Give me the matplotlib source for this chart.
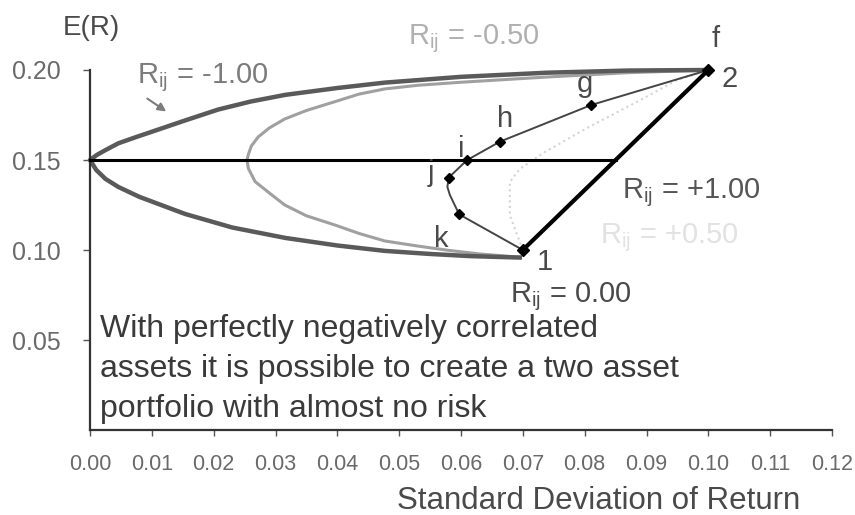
import matplotlib
matplotlib.use("Agg")
import matplotlib.pyplot as plt

plt.rcParams["font.family"] = ["Liberation Sans", "DejaVu Sans"]
plt.rcParams["mathtext.default"] = "regular"

# Asset points (standard deviation, expected return)
asset_sd = [0.07, 0.10]
asset_er = [0.10, 0.20]

# Correlation -1.00 frontier (upper branch, vertex, lower branch)
neg100_sd = [0.100, 0.087, 0.0739, 0.0600, 0.0477, 0.0400, 0.0316, 0.0260, 0.0207,
             0.0154, 0.0100, 0.0075, 0.0046, 0.0025, 0.0011, 0.0000,
             0.0010, 0.0025, 0.0046, 0.0080, 0.0154, 0.0230, 0.0316, 0.0400,
             0.0477, 0.0550, 0.0615, 0.0695]
neg100_er = [0.2000, 0.1997, 0.1985, 0.1962, 0.1930, 0.1900, 0.1862, 0.1825, 0.1780,
             0.1720, 0.1657, 0.1628, 0.1593, 0.1555, 0.1528, 0.1500,
             0.1445, 0.1395, 0.1350, 0.1295, 0.1200, 0.1125, 0.1067, 0.1025,
             0.0995, 0.0978, 0.0966, 0.0958]

# Correlation -0.50 frontier
neg050_sd = [0.100, 0.087, 0.0739, 0.0600, 0.0530, 0.0477, 0.0435, 0.0396, 0.0350,
             0.0315, 0.0290, 0.0272, 0.0261, 0.0256, 0.0254, 0.0256, 0.0267,
             0.0294, 0.0315, 0.0350, 0.0396, 0.0435, 0.0477, 0.0530, 0.0580,
             0.0630, 0.0695]
neg050_er = [0.2000, 0.1985, 0.1961, 0.1932, 0.1915, 0.1895, 0.1866, 0.1824, 0.1775,
             0.1728, 0.1678, 0.1628, 0.1578, 0.1530, 0.1500, 0.1454, 0.1380,
             0.1306, 0.1250, 0.1190, 0.1139, 0.1092, 0.1050, 0.1022, 0.0998,
             0.0978, 0.0960]

# Correlation 0.00 frontier and its labelled portfolios
zero_sd = [0.100, 0.0811, 0.0663, 0.0610, 0.0580, 0.0578, 0.0582, 0.0597, 0.0647, 0.070]
zero_er = [0.200, 0.1806, 0.1602, 0.1500, 0.1402, 0.1350, 0.1306, 0.1198, 0.1102, 0.100]
port_names = ["g", "h", "i", "j", "k"]
port_sd = [0.0811, 0.0663, 0.0610, 0.0580, 0.0597]
port_er = [0.1806, 0.1602, 0.1500, 0.1402, 0.1198]

# Correlation +0.50 frontier
pos050_sd = [0.100, 0.0949, 0.089, 0.0804, 0.0733, 0.0695, 0.0679, 0.0679, 0.070]
pos050_er = [0.200, 0.1944, 0.1833, 0.1678, 0.1539, 0.1450, 0.1378, 0.1194, 0.100]

# Zero-risk return level
riskless_er = 0.15
riskless_sd_end = 0.085

x_ticks = [0.00, 0.01, 0.02, 0.03, 0.04, 0.05, 0.06, 0.07, 0.08, 0.09, 0.10, 0.11, 0.12]
y_ticks = [0.05, 0.10, 0.15, 0.20]

fig = plt.figure(figsize=(8.55, 5.15), dpi=100)
ax = fig.add_axes([90 / 855, 85 / 515, 742 / 855, 360 / 515])
ax.set_xlim(0, 0.12)
ax.set_ylim(0, 0.20)

for s in ["top", "right"]:
    ax.spines[s].set_visible(False)
for s in ["left", "bottom"]:
    ax.spines[s].set_color("#333333")
    ax.spines[s].set_linewidth(1.6)

ax.set_xticks(x_ticks)
ax.set_xticklabels([f"{v:.2f}" for v in x_ticks], color="#6a6a6a",
                   fontsize=15.5, family=["Liberation Sans Narrow", "Liberation Sans"])
ax.set_yticks(y_ticks)
ax.set_yticklabels([f"{v:.2f}" for v in y_ticks], color="#6a6a6a", fontsize=18)
ax.tick_params(axis="x", direction="out", length=4, width=1, color="#555555", pad=13)
ax.tick_params(axis="y", direction="out", length=5, width=1, color="#555555", pad=16)

ax.plot([0, riskless_sd_end], [riskless_er, riskless_er], color="black", lw=2.2,
        clip_on=False, zorder=3)
ax.plot(neg050_sd, neg050_er, color="#a0a0a0", lw=2.2, clip_on=False, zorder=2,
        solid_joinstyle="round")
ax.plot(neg100_sd, neg100_er, color="#5a5a5a", lw=3.2, clip_on=False, zorder=2,
        solid_joinstyle="round")
ax.plot(pos050_sd, pos050_er, color="#d4d4d4", lw=1.5, ls=":", clip_on=False, zorder=2)
ax.plot(zero_sd, zero_er, color="#444444", lw=1.4, clip_on=False, zorder=4)
ax.plot(asset_sd, asset_er, color="black", lw=3.0, clip_on=False, zorder=4)
ax.plot(port_sd, port_er, ls="none", marker="D", ms=5.5, color="black", zorder=5)
ax.plot(asset_sd, asset_er, ls="none", marker="D", ms=6, color="black",
        clip_on=False, zorder=5)

lab = dict(fontsize=21, va="baseline", clip_on=False)
ax.text(0.0003, 0.2194, "E(R)", color="#4a4a4a", fontsize=20, va="baseline",
        ha="center")
ax.text(0.0076, 0.1928, "R$_{ij}$ = -1.00", color="#7c7c7c", **lab)
ax.text(0.0514, 0.2144, "R$_{ij}$ = -0.50", color="#b0b0b0", **lab)
ax.text(0.0860, 0.1289, "R$_{ij}$ = +1.00", color="#555555", **lab)
ax.text(0.0825, 0.1039, "R$_{ij}$ = +0.50", color="#e2e2e2", **lab)
ax.text(0.0679, 0.0711, "R$_{ij}$ = 0.00", color="#4a4a4a", **lab)
ax.annotate("", xy=(0.0127, 0.1761), xytext=(0.0089, 0.1850),
            arrowprops=dict(arrowstyle="-|>", color="#7c7c7c", lw=1.5,
                            mutation_scale=12))

pt_lab = dict(fontsize=21, va="baseline", ha="center", color="#4a4a4a")
ax.text(0.1012, 0.2128, "f", **pt_lab)
ax.text(0.1035, 0.1906, "2", **pt_lab)
ax.text(0.0736, 0.0889, "1", **pt_lab)
port_lab_pos = [(0.0801, 0.1878), (0.0671, 0.1683), (0.0600, 0.1517),
                (0.0552, 0.1383), (0.0568, 0.1017)]
for name, (px, py) in zip(port_names, port_lab_pos):
    ax.text(px, py, name, **pt_lab)

note_lines = ["With perfectly negatively correlated",
              "assets it is possible to create a two asset",
              "portfolio with almost no risk"]
for line, y in zip(note_lines, [0.0517, 0.0294, 0.0072]):
    ax.text(0.0016, y, line, fontsize=23, color="#3a3a3a", va="baseline")

fig.text(599 / 855, 6 / 515, "Standard Deviation of Return", fontsize=22.5,
         color="#4a4a4a", ha="center", va="baseline")

fig.savefig("out.png", dpi=100, facecolor="white")
